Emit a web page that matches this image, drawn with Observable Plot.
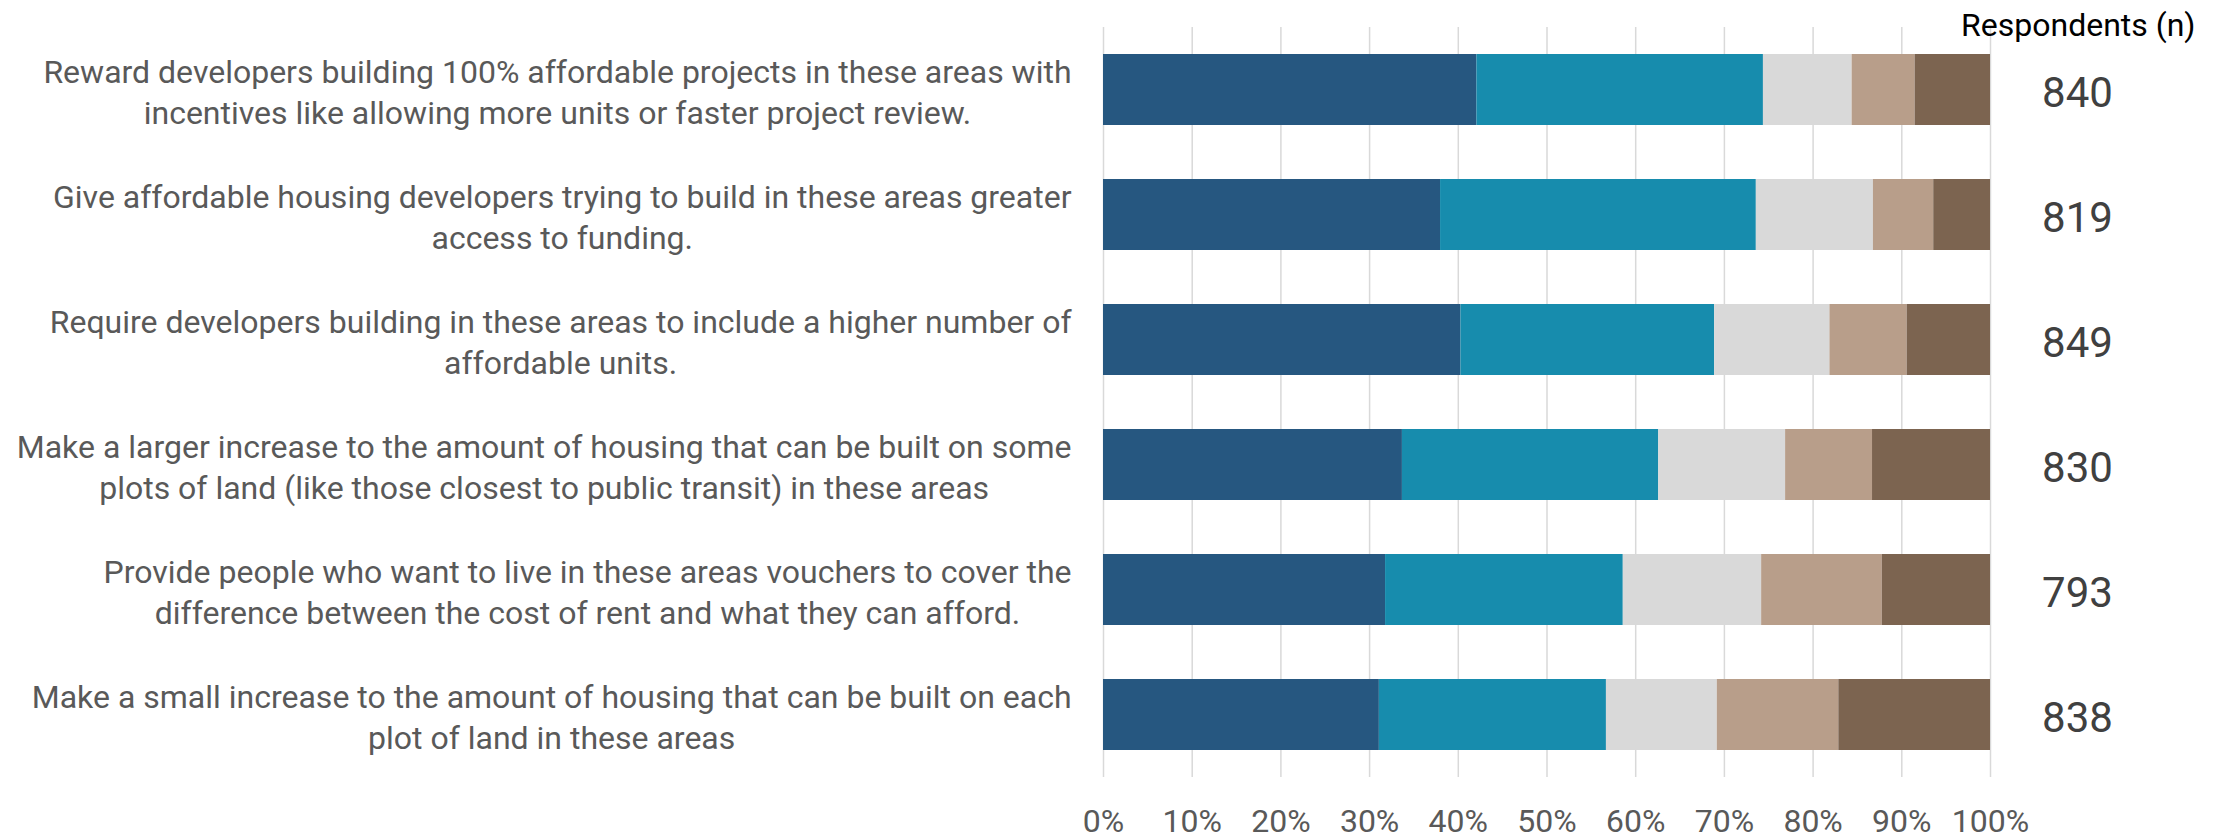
<!DOCTYPE html>
<html><head><meta charset="utf-8">
<script src="https://cdn.jsdelivr.net/npm/d3@7"></script>
<script src="https://cdn.jsdelivr.net/npm/@observablehq/plot@0.6"></script>
<style>html,body{margin:0;padding:0;background:#fff;} svg{display:block}</style>
</head><body><div id="chart"></div>
<script>
const categories = [
  "Reward developers building 100% affordable projects in these areas with\nincentives like allowing more units or faster project review.",
  "Give affordable housing developers trying to build in these areas greater\naccess to funding.",
  "Require developers building in these areas to include a higher number of\naffordable units.",
  "Make a larger increase to the amount of housing that can be built on some\nplots of land (like those closest to public transit) in these areas",
  "Provide people who want to live in these areas vouchers to cover the\ndifference between the cost of rent and what they can afford.",
  "Make a small increase to the amount of housing that can be built on each\nplot of land in these areas"
];
const respondents = [840, 819, 849, 830, 793, 838];
const seriesNames = ["Strongly support", "Somewhat support", "Neutral", "Somewhat oppose", "Strongly oppose"];
const stronglySupport = [42.1, 38.0, 40.3, 33.7, 31.8, 31.1];
const somewhatSupport = [32.3, 35.6, 28.6, 28.9, 26.8, 25.6];
const neutral         = [10.0, 13.2, 13.0, 14.3, 15.6, 12.5];
const somewhatOppose  = [7.1, 6.8, 8.7, 9.8, 13.6, 13.7];
const stronglyOppose  = [8.5, 6.4, 9.4, 13.3, 12.2, 17.1];
const seriesValues = [stronglySupport, somewhatSupport, neutral, somewhatOppose, stronglyOppose];
const colors = ["#265780", "#178cad", "#d9d9d9", "#b89e8a", "#7c6450"];
const tickValues = [0, 10, 20, 30, 40, 50, 60, 70, 80, 90, 100];

const data = [];
seriesNames.forEach((s, i) => categories.forEach((c, j) => data.push({category: c, series: s, value: seriesValues[i][j]})));
const nData = categories.map((c, i) => ({category: c, n: respondents[i]}));

// measure label widths so each centred two-line block ends 32px left of the plot frame
const ctx = document.createElement("canvas").getContext("2d");
ctx.font = "32px Roboto";
const blockWidth = s => Math.max(...s.split("\n").map(l => ctx.measureText(l).width));
const labelMarks = categories.map(c => Plot.text([c], {
  y: d => d, text: d => d, frameAnchor: "left", textAnchor: "middle",
  dx: -32 - blockWidth(c) / 2, fontSize: 32, fill: "#595959", lineHeight: 1.28
}));

const chart = Plot.plot({
  width: 2224, height: 837,
  marginLeft: 1103, marginRight: 234, marginTop: 27, marginBottom: 60,
  style: {fontFamily: "Roboto", background: "#fff"},
  x: {domain: [0, 100], label: null},
  y: {domain: categories, paddingInner: 0.432, paddingOuter: 0.216, axis: null},
  color: {domain: seriesNames, range: colors},
  marks: [
    Plot.gridX(tickValues, {stroke: "#d9d9d9", strokeOpacity: 1, strokeWidth: 1.5}),
    Plot.axisX({ticks: tickValues, tickFormat: d => d + "%", tickSize: 0, tickPadding: 32, fontSize: 32, fill: "#595959", label: null}),
    Plot.barX(data, Plot.stackX({x: "value", y: "category", fill: "series", order: null})),
    ...labelMarks,
    Plot.text(nData, {y: "category", text: "n", frameAnchor: "right", textAnchor: "middle", dx: 87, dy: 4, fontSize: 42, fill: "#404040"}),
    Plot.text(["Respondents (n)"], {frameAnchor: "top-right", textAnchor: "end", dx: 205, dy: -14, fontSize: 32, fill: "#000"})
  ]
});
document.getElementById("chart").appendChild(chart);
</script>
</body></html>
